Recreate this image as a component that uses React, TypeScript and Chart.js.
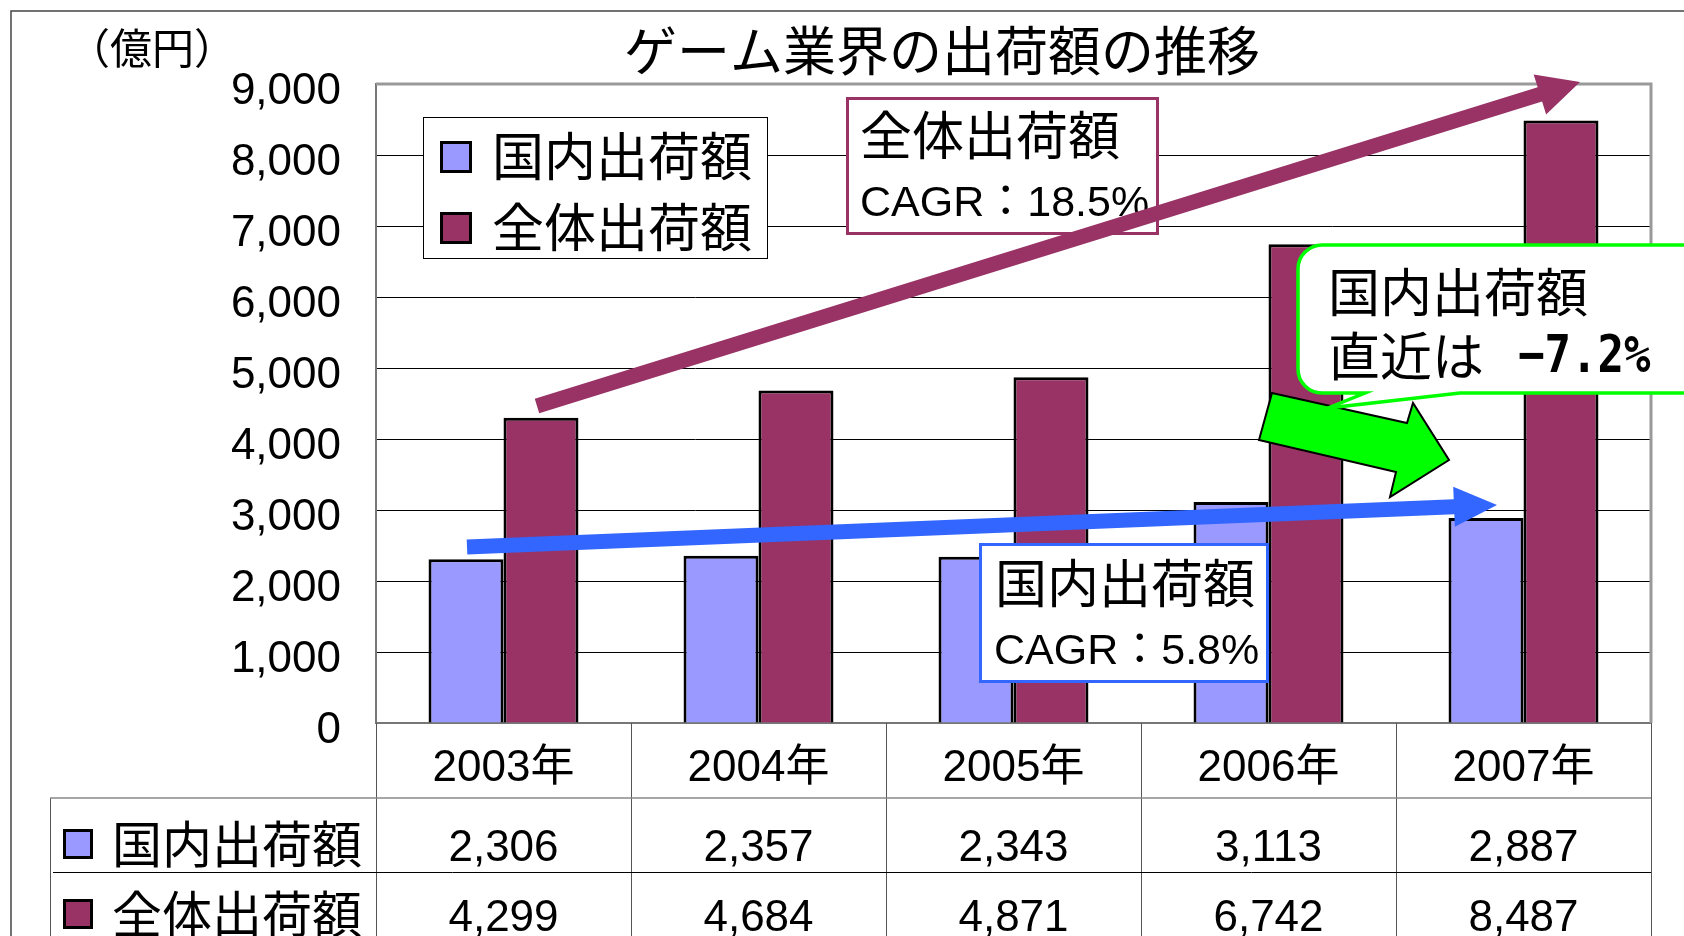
import React, { useEffect, useRef } from 'react';
import { Chart, registerables } from 'chart.js';

Chart.register(...registerables);

// ---- data ----
const categories = ['2003年', '2004年', '2005年', '2006年', '2007年'];
const seriesNames = ['国内出荷額', '全体出荷額'];
const domesticValues = [2306, 2357, 2343, 3113, 2887];
const totalValues = [4299, 4684, 4871, 6742, 8487];
const seriesColors = ['#9999FF', '#993366'];
const yMin = 0;
const yMax = 9000;
const yStep = 1000;
const chartTitle = 'ゲーム業界の出荷額の推移';
const unitLabel = '（億円）';
const totalNote = ['全体出荷額', 'CAGR：18.5%'];
const domesticNote = ['国内出荷額', 'CAGR：5.8%'];
const recentNote = ['国内出荷額', '直近は', '−7.2%'];

const JP = '"Liberation Sans", "Noto Sans CJK JP", sans-serif';
const W = 1684;
const H = 936;
const DY = 5; // baseline correction for middle-aligned text

function fmt(v: number) {
  return v.toLocaleString('en-US');
}

function drawArrow(ctx: CanvasRenderingContext2D, x0: number, y0: number, x1: number, y1: number, shaft: number, headLen: number, headW: number, color: string) {
  const dx = x1 - x0;
  const dy = y1 - y0;
  const len = Math.hypot(dx, dy);
  const ux = dx / len;
  const uy = dy / len;
  const nx = -uy;
  const ny = ux;
  const bx = x1 - ux * headLen;
  const by = y1 - uy * headLen;
  ctx.fillStyle = color;
  ctx.beginPath();
  ctx.moveTo(x0 + (nx * shaft) / 2, y0 + (ny * shaft) / 2);
  ctx.lineTo(bx + (nx * shaft) / 2, by + (ny * shaft) / 2);
  ctx.lineTo(bx + (nx * headW) / 2, by + (ny * headW) / 2);
  ctx.lineTo(x1, y1);
  ctx.lineTo(bx - (nx * headW) / 2, by - (ny * headW) / 2);
  ctx.lineTo(bx - (nx * shaft) / 2, by - (ny * shaft) / 2);
  ctx.lineTo(x0 - (nx * shaft) / 2, y0 - (ny * shaft) / 2);
  ctx.closePath();
  ctx.fill();
}

function marker(ctx: CanvasRenderingContext2D, x: number, y: number, s: number, color: string) {
  ctx.fillStyle = color;
  ctx.fillRect(x, y, s, s);
  ctx.strokeStyle = '#000';
  ctx.lineWidth = 3;
  ctx.strokeRect(x + 1.5, y + 1.5, s - 3, s - 3);
}

function text(ctx: CanvasRenderingContext2D, s: string, x: number, y: number) {
  ctx.fillText(s, x, y + DY);
}

const decorPlugin = {
  id: 'decor',
  afterDraw(chart: any) {
    const ctx: CanvasRenderingContext2D = chart.ctx;
    const xs = chart.scales.x;
    const ca = chart.chartArea;
    ctx.save();

    // outer frame
    ctx.strokeStyle = '#444';
    ctx.lineWidth = 1.5;
    ctx.beginPath();
    ctx.moveTo(11, H + 5);
    ctx.lineTo(11, 11);
    ctx.lineTo(W + 5, 11);
    ctx.stroke();

    // plot area top/right border
    ctx.strokeStyle = '#999';
    ctx.lineWidth = 3;
    ctx.beginPath();
    ctx.moveTo(ca.left, ca.top);
    ctx.lineTo(ca.right, ca.top);
    ctx.lineTo(ca.right, ca.bottom);
    ctx.stroke();

    // title + unit
    ctx.fillStyle = '#000';
    ctx.textBaseline = 'middle';
    ctx.textAlign = 'center';
    ctx.font = `53px ${JP}`;
    text(ctx, chartTitle, 942, 51);
    ctx.font = `42px ${JP}`;
    text(ctx, unitLabel, 152, 47);

    // legend box
    ctx.fillStyle = '#fff';
    ctx.fillRect(423, 117, 344, 141);
    ctx.strokeStyle = '#000';
    ctx.lineWidth = 1;
    ctx.strokeRect(423.5, 117.5, 344, 141);
    const ds = chart.data.datasets;
    const legY = [157, 228];
    ds.forEach((d: any, i: number) => {
      marker(ctx, 440, legY[i] - 16, 32, d.backgroundColor);
      ctx.fillStyle = '#000';
      ctx.textAlign = 'left';
      ctx.font = `52px ${JP}`;
      text(ctx, d.label, 492, legY[i]);
    });

    // data table
    const bounds: number[] = [];
    for (let i = 0; i <= categories.length; i++) bounds.push(xs.getPixelForValue(i - 0.5));
    ctx.strokeStyle = '#555';
    ctx.lineWidth = 1;
    bounds.forEach((bx) => {
      ctx.beginPath();
      ctx.moveTo(Math.round(bx) + 0.5, ca.bottom);
      ctx.lineTo(Math.round(bx) + 0.5, H);
      ctx.stroke();
    });
    ctx.beginPath();
    ctx.moveTo(50.5, 798);
    ctx.lineTo(50.5, H);
    ctx.stroke();
    ctx.strokeStyle = '#888';
    ctx.lineWidth = 1.5;
    ctx.beginPath();
    ctx.moveTo(50, 798);
    ctx.lineTo(ca.right, 798);
    ctx.stroke();
    ctx.strokeStyle = '#000';
    ctx.lineWidth = 1;
    ctx.beginPath();
    ctx.moveTo(53, 872.5);
    ctx.lineTo(ca.right, 872.5);
    ctx.stroke();

    const rowY = [844, 914];
    const rowVals = [domesticValues, totalValues];
    ds.forEach((d: any, r: number) => {
      marker(ctx, 63, rowY[r] - 15, 30, d.backgroundColor);
      ctx.fillStyle = '#000';
      ctx.textAlign = 'left';
      ctx.font = `50px ${JP}`;
      text(ctx, d.label, 112, rowY[r]);
      ctx.textAlign = 'center';
      ctx.font = `44px ${JP}`;
      rowVals[r].forEach((v, i) => {
        text(ctx, fmt(v), xs.getPixelForValue(i), rowY[r]);
      });
    });

    // total note box
    ctx.fillStyle = '#fff';
    ctx.fillRect(846, 97, 313, 138);
    ctx.strokeStyle = '#993366';
    ctx.lineWidth = 3;
    ctx.strokeRect(847.5, 98.5, 310, 135);
    ctx.fillStyle = '#000';
    ctx.textAlign = 'left';
    ctx.font = `52px ${JP}`;
    text(ctx, totalNote[0], 860, 136);
    ctx.font = `43px ${JP}`;
    text(ctx, totalNote[1], 860, 199);

    // purple trend arrow
    drawArrow(ctx, 537, 406, 1580, 82, 15, 42, 42, '#993366');

    // blue trend arrow
    drawArrow(ctx, 467, 547, 1497, 505, 15, 43, 40, '#3366FF');

    // domestic note box
    ctx.fillStyle = '#fff';
    ctx.fillRect(979, 543, 290, 140);
    ctx.strokeStyle = '#3366FF';
    ctx.lineWidth = 3;
    ctx.strokeRect(980.5, 544.5, 287, 137);
    ctx.fillStyle = '#000';
    ctx.textAlign = 'left';
    ctx.font = `52px ${JP}`;
    text(ctx, domesticNote[0], 995, 584);
    ctx.font = `43px ${JP}`;
    text(ctx, domesticNote[1], 994, 647);

    // green block arrow
    ctx.fillStyle = '#00FF00';
    ctx.strokeStyle = '#000';
    ctx.lineWidth = 2;
    ctx.beginPath();
    ctx.moveTo(1272, 393);
    ctx.lineTo(1407, 423);
    ctx.lineTo(1413, 403);
    ctx.lineTo(1449, 460);
    ctx.lineTo(1390, 497);
    ctx.lineTo(1396, 472);
    ctx.lineTo(1259, 440);
    ctx.closePath();
    ctx.fill();
    ctx.stroke();

    // green callout
    const x0 = 1298;
    const y0 = 245;
    const x1 = 1720;
    const y1 = 393;
    const r = 24;
    ctx.beginPath();
    ctx.moveTo(x0 + r, y0);
    ctx.lineTo(x1 - r, y0);
    ctx.arcTo(x1, y0, x1, y0 + r, r);
    ctx.lineTo(x1, y1 - r);
    ctx.arcTo(x1, y1, x1 - r, y1, r);
    ctx.lineTo(1460, y1);
    ctx.lineTo(1328, 408);
    ctx.lineTo(1365, y1);
    ctx.lineTo(x0 + r, y1);
    ctx.arcTo(x0, y1, x0, y1 - r, r);
    ctx.lineTo(x0, y0 + r);
    ctx.arcTo(x0, y0, x0 + r, y0, r);
    ctx.closePath();
    ctx.fillStyle = '#fff';
    ctx.fill();
    ctx.strokeStyle = '#00FF00';
    ctx.lineWidth = 3.5;
    ctx.stroke();
    ctx.fillStyle = '#000';
    ctx.textAlign = 'left';
    ctx.font = `52px ${JP}`;
    text(ctx, recentNote[0], 1328, 293);
    text(ctx, recentNote[1], 1328, 357);
    ctx.save();
    ctx.translate(1518, 357);
    ctx.scale(1, 1.18);
    ctx.font = `bold 44px "DejaVu Sans Mono", monospace`;
    ctx.fillText(recentNote[2], 0, 1);
    ctx.restore();

    ctx.restore();
  },
};

export default function App() {
  const ref = useRef<HTMLCanvasElement | null>(null);
  useEffect(() => {
    document.body.style.margin = '0';
    const canvas = ref.current;
    if (!canvas) return;
    const chart = new Chart(canvas, {
      type: 'bar',
      data: {
        labels: categories,
        datasets: [
          {
            label: seriesNames[0],
            data: domesticValues,
            backgroundColor: seriesColors[0],
            borderColor: '#000',
            borderWidth: 3,
            categoryPercentage: 0.588,
            barPercentage: 1,
          },
          {
            label: seriesNames[1],
            data: totalValues,
            backgroundColor: seriesColors[1],
            borderColor: '#000',
            borderWidth: 3,
            categoryPercentage: 0.588,
            barPercentage: 1,
          },
        ],
      },
      options: {
        responsive: false,
        animation: false,
        devicePixelRatio: 1,
        layout: { padding: { left: 0, top: 84, right: 33, bottom: 0 } },
        plugins: {
          legend: { display: false },
          title: { display: false },
          tooltip: { enabled: false },
        },
        scales: {
          x: {
            grid: { display: false },
            border: { color: '#777', width: 2 },
            ticks: {
              color: '#000',
              font: { family: JP, size: 44 },
              padding: 11,
              maxRotation: 0,
              autoSkip: false,
            },
            afterFit: (s: any) => {
              s.height = 213;
            },
          },
          y: {
            min: yMin,
            max: yMax,
            ticks: {
              stepSize: yStep,
              color: '#000',
              font: { family: JP, size: 44 },
              padding: 35,
              labelOffset: 8,
              callback: (v: any) => fmt(Number(v)),
            },
            grid: {
              color: (c: any) => (c.tick && c.tick.value === yMax ? 'rgba(0,0,0,0)' : '#000'),
              lineWidth: 1,
              drawTicks: false,
            },
            border: { color: '#777', width: 2 },
            afterFit: (s: any) => {
              s.width = 376;
            },
          },
        },
      },
      plugins: [decorPlugin],
    });
    return () => chart.destroy();
  }, []);
  return (
    <div style={{ position: 'absolute', left: 0, top: 0, width: W, height: H, background: '#fff' }}>
      <canvas ref={ref} width={W} height={H} style={{ width: W, height: H, display: 'block' }} />
    </div>
  );
}
